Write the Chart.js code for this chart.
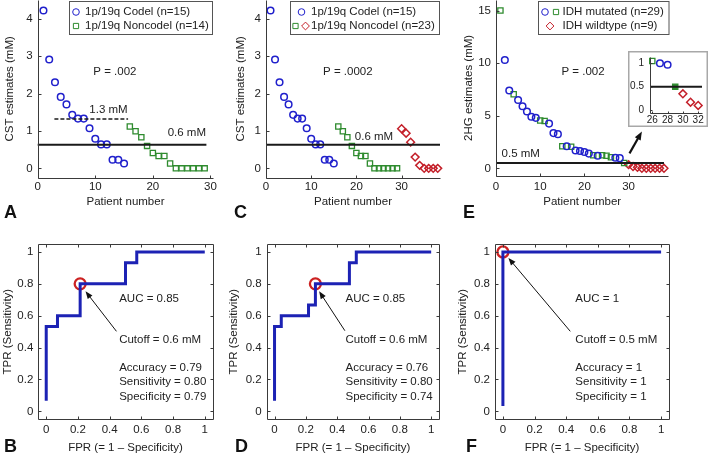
<!DOCTYPE html>
<html>
<head>
<meta charset="utf-8">
<script src="https://cdn.jsdelivr.net/npm/chart.js@4.4.1/dist/chart.umd.min.js"></script>
<style>
  body { margin: 0; background: #fff; width: 709px; height: 462px; position: relative; overflow: hidden; }
  canvas { position: absolute; }
</style>
</head>
<body>
<canvas id="cA" width="233" height="230" style="left:0px;top:0px"></canvas>
<canvas id="cC" width="229" height="230" style="left:233px;top:0px"></canvas>
<canvas id="cE" width="247" height="230" style="left:462px;top:0px"></canvas>
<canvas id="cB" width="226" height="232" style="left:0px;top:230px"></canvas>
<canvas id="cD" width="229" height="232" style="left:226px;top:230px"></canvas>
<canvas id="cF" width="254" height="232" style="left:455px;top:230px"></canvas>
<canvas id="cIn" width="80" height="76" style="left:628px;top:51px"></canvas>
<script>
// ---- data ----
// A / C: CST estimates per patient
const codelX = [1, 2, 3, 4, 5, 6, 7, 8, 9, 10, 11, 12, 13, 14, 15];
const codelCST = [4.22, 2.91, 2.3, 1.91, 1.71, 1.43, 1.33, 1.33, 1.07, 0.79, 0.64, 0.64, 0.23, 0.23, 0.13];
const noncodelX = [16, 17, 18, 19, 20, 21, 22, 23, 24, 25, 26, 27, 28, 29];
const noncodelCST = [1.12, 0.99, 0.83, 0.6, 0.41, 0.33, 0.33, 0.13, 0, 0, 0, 0, 0, 0];
const noncodelExtraX = [30, 31, 32, 33, 34, 35, 36, 37, 38];
const noncodelExtraCST = [1.06, 0.94, 0.7, 0.3, 0.08, 0, 0, 0, 0];

// E: 2HG estimates
const idhCodelX = [2, 3, 5, 6, 7, 8, 9, 12, 13, 14, 16, 18, 19, 20, 21, 23, 27, 28];
const idhCodel2HG = [10.3, 7.4, 6.5, 5.9, 5.4, 4.9, 4.8, 4.25, 3.35, 3.25, 2.1, 1.7, 1.65, 1.55, 1.4, 1.2, 1.0, 0.97];
const idhNoncodelX = [1, 4, 10, 11, 15, 17, 22, 24, 25, 26, 29];
const idhNoncodel2HG = [15, 7.05, 4.55, 4.5, 2.1, 2.05, 1.25, 1.25, 1.2, 1.05, 0.5];
const idhWildX = [30, 31, 32, 33, 34, 35, 36, 37, 38];
const idhWild2HG = [0.35, 0.17, 0.1, 0, 0, 0, 0, 0, 0];

// ROC curves (corner points)
const fprB = [0, 0, 0.071, 0.071, 0.214, 0.214, 0.5, 0.5, 0.571, 0.571, 1];
const tprB = [0.067, 0.533, 0.533, 0.6, 0.6, 0.8, 0.8, 0.933, 0.933, 1, 1];
const fprD = [0, 0, 0.043, 0.043, 0.217, 0.217, 0.261, 0.261, 0.478, 0.478, 0.522, 0.522, 1];
const tprD = [0.067, 0.533, 0.533, 0.6, 0.6, 0.667, 0.667, 0.8, 0.8, 0.933, 0.933, 1, 1];
const fprF = [0, 0, 1];
const tprF = [0.034, 1, 1];
const cutB = [0.214, 0.8];
const cutD = [0.261, 0.8];
const cutF = [0, 1];

// thresholds
const cutoffA = 0.63, cutoffE = 0.5, dashedA = 1.32;

// tick labels
const patientTicks = [0, 10, 20, 30];
const cstTicks = [0, 1, 2, 3, 4];
const hgTicks = [0, 5, 10, 15];
const rocTicks = [0, 0.2, 0.4, 0.6, 0.8, 1];
const rocTickLabels = ['0', '0.2', '0.4', '0.6', '0.8', '1'];
const insetXTicks = [26, 28, 30, 32];
const insetYTicks = [0, 0.5, 1];
const insetYLabels = ['0', '0.5', '1'];

// ---- styling ----
const FONT = "'Liberation Sans', Arial, sans-serif";
Chart.defaults.font.family = FONT;
Chart.defaults.font.size = 11.5;
Chart.defaults.color = '#222';

const BLUE = '#2020cc', GREEN = '#2e8b2e', RED = '#c4202a', INK = '#222', AXIS = '#3a3a3a';
const circleSty = { shape: 'circle', r: 3.3, w: 1.5, color: BLUE };
const squareSty = { shape: 'rect', r: 3.7, w: 1.3, color: GREEN };
const diamondSty = { shape: 'rectRot', r: 3.9, w: 1.5, color: RED };

const pts = (xs, ys) => xs.map((x, i) => ({ x: x, y: ys[i] }));

function markers(xs, ys, s) {
  return {
    data: pts(xs, ys), showLine: false,
    pointStyle: s.shape, pointRadius: s.r, pointBorderWidth: s.w,
    pointBorderColor: s.color, pointBackgroundColor: 'rgba(0,0,0,0)'
  };
}
function line(xs, ys, color, width, dash) {
  return {
    data: pts(xs, ys), showLine: true, pointRadius: 0,
    borderColor: color, borderWidth: width, borderDash: dash || []
  };
}

function axis(min, max, ticks, labels, size, tickPad, title, titlePad, fontSize) {
  return {
    type: 'linear', min: min, max: max,
    afterBuildTicks: s => { s.ticks = ticks.map(v => ({ value: v })); },
    afterFit: s => {
      if (s.isHorizontal()) s.height = size; else s.width = size;
      s.paddingLeft = s.paddingRight = s.paddingTop = s.paddingBottom = 0;
    },
    grid: { display: false, drawTicks: false },
    border: { display: false },
    ticks: {
      autoSkip: false, maxRotation: 0, padding: tickPad, color: INK,
      font: { size: fontSize || 11.5 },
      callback: (v, i) => labels ? labels[i] : String(v)
    },
    title: { display: !!title, text: title, color: INK, padding: titlePad, font: { size: 11.5 } }
  };
}

function drawArrow(ctx, x0, y0, x1, y1, w, head) {
  const a = Math.atan2(y1 - y0, x1 - x0);
  ctx.lineWidth = w;
  ctx.beginPath();
  ctx.moveTo(x0, y0);
  ctx.lineTo(x1 - head * 0.7 * Math.cos(a), y1 - head * 0.7 * Math.sin(a));
  ctx.stroke();
  ctx.beginPath();
  ctx.moveTo(x1, y1);
  ctx.lineTo(x1 - head * Math.cos(a - 0.38), y1 - head * Math.sin(a - 0.38));
  ctx.lineTo(x1 - head * Math.cos(a + 0.38), y1 - head * Math.sin(a + 0.38));
  ctx.closePath();
  ctx.fill();
}

// axes lines, inward ticks, annotations, legend, panel letter
const decor = {
  id: 'decor',
  beforeDraw(chart, args, o) {
    if (o.frame) {
      const c = chart.ctx;
      c.save();
      c.fillStyle = '#fff';
      c.fillRect(0, 0, chart.width, chart.height);
      c.restore();
    }
  },
  afterDraw(chart, args, o) {
    const c = chart.ctx, a = chart.chartArea, sx = chart.scales.x, sy = chart.scales.y;
    c.save();
    c.strokeStyle = AXIS;
    c.lineWidth = 1;
    const L = Math.round(a.left) + 0.5, R = Math.round(a.right) + 0.5;
    const T = Math.round(a.top) + 0.5, B = Math.round(a.bottom) + 0.5;
    c.beginPath();
    if (o.box) { c.rect(L, T, R - L, B - T); }
    else { c.moveTo(L, T); c.lineTo(L, B); c.lineTo(R, B); }
    c.stroke();
    const tl = o.tickLen || 3;
    c.beginPath();
    sx.ticks.forEach(t => {
      const p = Math.round(sx.getPixelForValue(t.value)) + 0.5;
      c.moveTo(p, B); c.lineTo(p, B - tl);
      if (o.box) { c.moveTo(p, T); c.lineTo(p, T + tl); }
    });
    sy.ticks.forEach(t => {
      const p = Math.round(sy.getPixelForValue(t.value)) + 0.5;
      c.moveTo(L, p); c.lineTo(L + tl, p);
      if (o.box) { c.moveTo(R, p); c.lineTo(R - tl, p); }
    });
    c.stroke();

    c.fillStyle = INK;
    c.textBaseline = 'middle';
    (o.texts || []).forEach(t => {
      c.font = (t.size || 11.5) + 'px ' + FONT;
      c.textAlign = t.align || 'center';
      c.fillText(t.text, sx.getPixelForValue(t.x), sy.getPixelForValue(t.y));
    });

    c.strokeStyle = '#111';
    c.fillStyle = '#111';
    (o.arrows || []).forEach(r => {
      drawArrow(c, sx.getPixelForValue(r.from[0]), sy.getPixelForValue(r.from[1]),
        sx.getPixelForValue(r.to[0]), sy.getPixelForValue(r.to[1]), r.w, r.head);
    });

    if (o.legend) {
      const g = o.legend;
      c.strokeStyle = '#555';
      c.lineWidth = 1;
      c.strokeRect(g.box[0] + 0.5, g.box[1] + 0.5, g.box[2] - g.box[0], g.box[3] - g.box[1]);
      g.rows.forEach(row => {
        row.marks.forEach(m => {
          c.strokeStyle = m.s.color;
          c.fillStyle = 'rgba(0,0,0,0)';
          Chart.helpers.drawPoint(c, { pointStyle: m.s.shape, radius: m.s.r, borderWidth: 2, rotation: 0 }, m.x, row.y);
        });
        c.fillStyle = INK;
        c.font = '11.5px ' + FONT;
        c.textAlign = 'left';
        c.textBaseline = 'middle';
        c.fillText(row.text, g.tx, row.y);
      });
    }

    if (o.letter) {
      c.fillStyle = '#111';
      c.font = 'bold 18px ' + FONT;
      c.textAlign = 'left';
      c.textBaseline = 'alphabetic';
      c.fillText(o.letter.text, o.letter.x, o.letter.y);
    }

    if (o.frame) {
      c.strokeStyle = '#a8a8a8';
      c.lineWidth = 1.5;
      c.strokeRect(0.75, 0.75, chart.width - 1.5, chart.height - 1.5);
    }
    c.restore();
  }
};

// page geometry of each panel: canvas box and plot area
function build(id, cv, area, scales, datasets, deco) {
  new Chart(document.getElementById(id), {
    type: 'scatter',
    data: { datasets: datasets },
    options: {
      responsive: false, animation: false, events: [],
      layout: { autoPadding: false, padding: { left: 0, bottom: 0, top: area.t - cv.y, right: cv.x + cv.w - area.r } },
      clip: false,
      scales: scales,
      plugins: { legend: { display: false }, tooltip: { enabled: false }, decor: deco }
    },
    plugins: [decor]
  });
}

// ---- top row ----
const gA = { cv: { x: 0, y: 0, w: 233, h: 230 }, area: { l: 37.7, t: 0, r: 213.3, b: 177.7 } };
build('cA', gA.cv, gA.area, {
  x: axis(0, 30.5, patientTicks, null, gA.cv.y + gA.cv.h - gA.area.b, 2.5, 'Patient number', { bottom: 21 }),
  y: axis(-0.25, 4.5, cstTicks, null, gA.area.l - gA.cv.x, 5, 'CST estimates (mM)', { top: 3 })
}, [
  line([0, 29.3], [cutoffA, cutoffA], '#1a1a1a', 2),
  line([2.9, 15.7], [dashedA, dashedA], '#1a1a1a', 1.5, [4, 2]),
  markers(codelX, codelCST, circleSty),
  markers(noncodelX, noncodelCST, squareSty)
], {
  texts: [
    { text: 'P = .002', x: 13.4, y: 2.57 },
    { text: '1.3 mM', x: 12.3, y: 1.56 },
    { text: '0.6 mM', x: 25.9, y: 0.94 }
  ],
  legend: {
    box: [69, 1, 212, 34], tx: 85,
    rows: [
      { y: 12, text: '1p/19q Codel (n=15)', marks: [{ s: circleSty, x: 76 }] },
      { y: 26, text: '1p/19q Noncodel (n=14)', marks: [{ s: squareSty, x: 76 }] }
    ]
  },
  letter: { text: 'A', x: 4, y: 218 }
});

const gC = { cv: { x: 233, y: 0, w: 229, h: 230 }, area: { l: 266, t: 0, r: 440, b: 177.7 } };
build('cC', gC.cv, gC.area, {
  x: axis(0, 38.5, patientTicks, null, gC.cv.y + gC.cv.h - gC.area.b, 2.5, 'Patient number', { bottom: 21 }),
  y: axis(-0.25, 4.5, cstTicks, null, gC.area.l - gC.cv.x, 5, 'CST estimates (mM)', { top: 1 })
}, [
  line([0, 38.5], [cutoffA, cutoffA], '#1a1a1a', 2),
  markers(codelX, codelCST, circleSty),
  markers(noncodelX, noncodelCST, squareSty),
  markers(noncodelExtraX, noncodelExtraCST, diamondSty)
], {
  texts: [
    { text: 'P = .0002', x: 18.1, y: 2.57 },
    { text: '0.6 mM', x: 23.9, y: 0.85 }
  ],
  legend: {
    box: [57, 1, 206, 34], tx: 78,
    rows: [
      { y: 12, text: '1p/19q Codel (n=15)', marks: [{ s: circleSty, x: 68.5 }] },
      { y: 26, text: '1p/19q Noncodel (n=23)', marks: [{ s: squareSty, x: 62.5 }, { s: diamondSty, x: 72.5 }] }
    ]
  },
  letter: { text: 'C', x: 1, y: 218 }
});

const gE = { cv: { x: 462, y: 0, w: 247, h: 230 }, area: { l: 496, t: 0, r: 668.4, b: 175.7 } };
build('cE', gE.cv, gE.area, {
  x: axis(0, 39, patientTicks, null, gE.cv.y + gE.cv.h - gE.area.b, 4.5, 'Patient number', { bottom: 21 }),
  y: axis(-0.7, 16, hgTicks, null, gE.area.l - gE.cv.x, 5, '2HG estimates (mM)', { top: 0 })
}, [
  line([0, 38], [cutoffE, cutoffE], '#1a1a1a', 2),
  markers(idhCodelX, idhCodel2HG, circleSty),
  markers(idhNoncodelX, idhNoncodel2HG, squareSty),
  markers(idhWildX, idhWild2HG, diamondSty)
], {
  texts: [
    { text: 'P = .002', x: 19.7, y: 9.17 },
    { text: '0.5 mM', x: 5.6, y: 1.42 }
  ],
  arrows: [{ from: [30.2, 1.42], to: [33.0, 3.5], w: 2.2, head: 9 }],
  legend: {
    box: [76, 1, 206.5, 34], tx: 100.5,
    rows: [
      { y: 12, text: 'IDH mutated (n=29)', marks: [{ s: circleSty, x: 83 }, { s: squareSty, x: 94 }] },
      { y: 26, text: 'IDH wildtype (n=9)', marks: [{ s: diamondSty, x: 88 }] }
    ]
  },
  letter: { text: 'E', x: 1, y: 218 }
});

// inset of E (patients 26-32)
const inSel = (xs, ys) => {
  const keep = xs.map((x, i) => i).filter(i => xs[i] >= 26 && xs[i] <= 32);
  return [keep.map(i => xs[i]), keep.map(i => ys[i])];
};
const inCod = inSel(idhCodelX, idhCodel2HG);
const inNon = inSel(idhNoncodelX, idhNoncodel2HG);
const inWild = inSel(idhWildX, idhWild2HG);
const gIn = { cv: { x: 628, y: 51, w: 80, h: 76 }, area: { l: 650, t: 56.7, r: 702, b: 113 } };
const inNonSet = markers(inNon[0], inNon[1], squareSty);
inNonSet.pointBackgroundColor = inNon[0].map(x => x === 29 ? GREEN : 'rgba(0,0,0,0)');
build('cIn', gIn.cv, gIn.area, {
  x: axis(25.7, 32.5, insetXTicks, null, gIn.cv.y + gIn.cv.h - gIn.area.b, 1.5, '', {}, 10),
  y: axis(-0.06, 1.14, insetYTicks, insetYLabels, gIn.area.l - gIn.cv.x, 6, '', {}, 10)
}, [
  line([25.7, 32.5], [cutoffE, cutoffE], '#1a1a1a', 2),
  markers(inCod[0], inCod[1], circleSty),
  inNonSet,
  markers(inWild[0], inWild[1], diamondSty)
], { frame: true, tickLen: 2 });

// ---- bottom row: ROC ----
function roc(id, g, fpr, tpr, cut, textX, cutText, acc, sens, spec, auc, arrow, letter, titlePad) {
  build(id, g.cv, g.area, {
    x: axis(-0.05, 1.05, rocTicks, rocTickLabels, g.cv.y + g.cv.h - g.area.b, 3.8, 'FPR (= 1 \u2013 Specificity)', { bottom: 7 }),
    y: axis(-0.05, 1.05, rocTicks, rocTickLabels, g.area.l - g.cv.x, 5, 'TPR (Sensitivity)', { top: titlePad })
  }, [
    line(fpr, tpr, '#1c22b4', 3),
    {
      data: pts([cut[0]], [cut[1]]), showLine: false, pointStyle: 'circle', pointRadius: 5.5,
      pointBorderWidth: 2.3, pointBorderColor: '#cc2222', pointBackgroundColor: 'rgba(0,0,0,0)'
    }
  ], {
    box: true,
    texts: [
      { text: 'AUC = ' + auc, x: textX, y: 0.705, align: 'left' },
      { text: 'Cutoff = ' + cutText, x: textX, y: 0.45, align: 'left' },
      { text: 'Accuracy = ' + acc, x: textX, y: 0.272, align: 'left' },
      { text: 'Sensitivity = ' + sens, x: textX, y: 0.182, align: 'left' },
      { text: 'Specificity = ' + spec, x: textX, y: 0.094, align: 'left' }
    ],
    arrows: [{ from: arrow[0], to: arrow[1], w: 1, head: 8 }],
    letter: letter
  });
}

// letters are in canvas coordinates (bottom canvases start at y = 230)
roc('cB', { cv: { x: 0, y: 230, w: 226, h: 232 }, area: { l: 38.3, t: 244, r: 212.7, b: 419.3 } },
  fprB, tprB, cutB, 0.46, '0.6 mM', '0.79', '0.80', '0.79', '0.85',
  [[0.443, 0.502], [0.248, 0.753]], { text: 'B', x: 4, y: 222 }, 0.6);
roc('cD', { cv: { x: 226, y: 230, w: 229, h: 232 }, area: { l: 266.7, t: 244, r: 439, b: 419.3 } },
  fprD, tprD, cutD, 0.453, '0.6 mM', '0.76', '0.80', '0.74', '0.85',
  [[0.449, 0.506], [0.285, 0.753]], { text: 'D', x: 9, y: 222 }, 1);
roc('cF', { cv: { x: 455, y: 230, w: 254, h: 232 }, area: { l: 495, t: 244, r: 669, b: 419.3 } },
  fprF, tprF, cutF, 0.458, '0.5 mM', '1', '1', '1', '1',
  [[0.426, 0.502], [0.035, 0.962]], { text: 'F', x: 11, y: 222 }, 1);
</script>
</body>
</html>
